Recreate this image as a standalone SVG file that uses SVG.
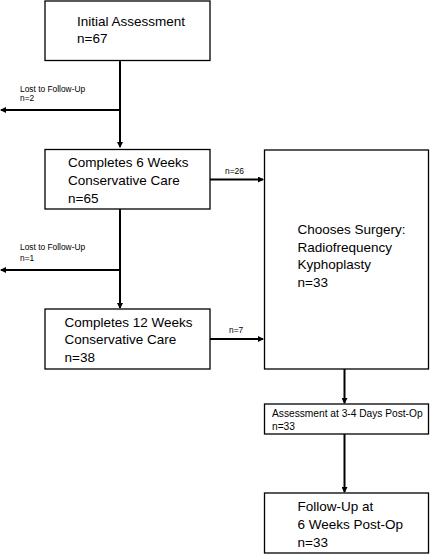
<svg xmlns="http://www.w3.org/2000/svg" width="430" height="554" viewBox="0 0 430 554">
<defs>
<marker id="ah" markerWidth="6" markerHeight="6" refX="5" refY="3" orient="auto" markerUnits="userSpaceOnUse">
<path d="M0,0 L6,3 L0,6 Z" fill="#000"/>
</marker>
<style>
.box{fill:#fff;stroke:#000;stroke-width:1.3}
.t{font-family:"Liberation Sans",Arial,sans-serif;font-size:13.5px;fill:#000}
.s{font-family:"Liberation Sans",Arial,sans-serif;font-size:8.4px;fill:#000}
.m{font-family:"Liberation Sans",Arial,sans-serif;font-size:10.2px;fill:#000}
.c{fill:none;stroke:#000;stroke-width:2}
</style>
</defs>
<rect width="430" height="554" fill="#fff"/>
<g id="connectors">
<path class="c" d="M120,60 V147" marker-end="url(#ah)"/>
<path class="c" d="M120,110 H1" marker-end="url(#ah)"/>
<path class="c" d="M120,209 V308" marker-end="url(#ah)"/>
<path class="c" d="M120,270 H1" marker-end="url(#ah)"/>
<path class="c" d="M210,179.5 H263" marker-end="url(#ah)"/>
<path class="c" d="M210,339 H263" marker-end="url(#ah)"/>
<path class="c" d="M344.5,369 V403" marker-end="url(#ah)"/>
<path class="c" d="M344.5,434 V492" marker-end="url(#ah)"/>
<text class="s" x="20" y="91.5">Lost to Follow-Up</text>
<text class="s" x="20" y="101">n=2</text>
<text class="s" x="20" y="250">Lost to Follow-Up</text>
<text class="s" x="20" y="260.5">n=1</text>
<text class="s" x="225" y="174">n=26</text>
<text class="s" x="229" y="333">n=7</text>
</g>
<g id="initial">
<rect class="box" x="45" y="1" width="165" height="59.5"/>
<text class="t" x="77" y="26">Initial Assessment</text>
<text class="t" x="77" y="43">n=67</text>
</g>
<g id="six-weeks">
<rect class="box" x="45" y="149.5" width="165" height="59.5"/>
<text class="t" x="68" y="166.5">Completes 6 Weeks</text>
<text class="t" x="68" y="184.5">Conservative Care</text>
<text class="t" x="68" y="202.5">n=65</text>
</g>
<g id="twelve-weeks">
<rect class="box" x="45" y="309" width="165" height="60"/>
<text class="t" x="64.5" y="326.5">Completes 12 Weeks</text>
<text class="t" x="64.5" y="344">Conservative Care</text>
<text class="t" x="64.5" y="362">n=38</text>
</g>
<g id="surgery">
<rect class="box" x="264.5" y="150" width="164" height="219"/>
<text class="t" x="297.5" y="234">Chooses Surgery:</text>
<text class="t" x="297.5" y="251.5">Radiofrequency</text>
<text class="t" x="297.5" y="269">Kyphoplasty</text>
<text class="t" x="297.5" y="287">n=33</text>
</g>
<g id="post-op-days">
<rect class="box" x="264.5" y="404" width="164" height="30"/>
<text class="m" x="272" y="417.3">Assessment at 3-4 Days Post-Op</text>
<text class="m" x="272" y="430">n=33</text>
</g>
<g id="post-op-weeks">
<rect class="box" x="264.5" y="493" width="164" height="60"/>
<text class="t" x="297.5" y="511">Follow-Up at</text>
<text class="t" x="297.5" y="529">6 Weeks Post-Op</text>
<text class="t" x="297.5" y="546.5">n=33</text>
</g>
</svg>
